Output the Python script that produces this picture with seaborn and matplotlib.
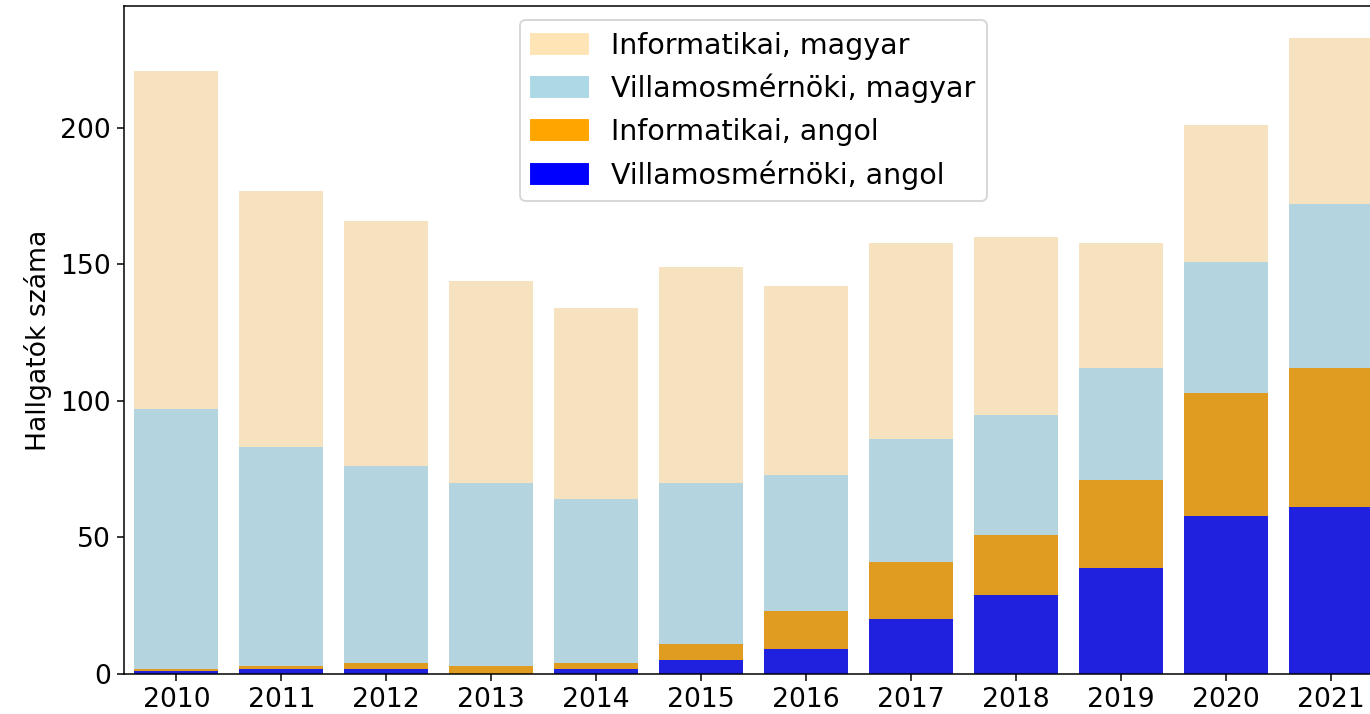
import numpy as np
import matplotlib
matplotlib.use("Agg")
import matplotlib.pyplot as plt
import matplotlib.patches as mpatches
import seaborn as sns

# evek es hallgatoi letszamok
evek = ["2010", "2011", "2012", "2013", "2014", "2015",
        "2016", "2017", "2018", "2019", "2020", "2021"]

vill_angol = [1, 2, 2, 0, 2, 5, 9, 20, 29, 39, 58, 61]
info_angol = [1, 1, 2, 3, 2, 6, 14, 21, 22, 32, 45, 51]
vill_magyar = [95, 80, 72, 67, 60, 59, 50, 45, 44, 41, 48, 60]
info_magyar = [124, 94, 90, 74, 70, 79, 69, 72, 65, 46, 50, 61]

# kumulalt magassagok a halmozott oszlopokhoz
c1 = np.array(vill_angol)
c2 = c1 + np.array(info_angol)
c3 = c2 + np.array(vill_magyar)
c4 = c3 + np.array(info_magyar)

plt.rcParams["font.size"] = 14

fig = plt.figure(figsize=(10, 714 / 137), dpi=137)
ax = fig.add_axes([124 / 1370, 40 / 714, 1259 / 1370, 668 / 714])

sns.barplot(x=evek, y=c4, color="moccasin", ax=ax)
sns.barplot(x=evek, y=c3, color="lightblue", ax=ax)
sns.barplot(x=evek, y=c2, color="orange", ax=ax)
sns.barplot(x=evek, y=c1, color="blue", ax=ax)

ax.set_ylabel("Hallgatók száma")
ax.set_xlabel("")

handles = [
    mpatches.Patch(color="moccasin", label="Informatikai, magyar"),
    mpatches.Patch(color="lightblue", label="Villamosmérnöki, magyar"),
    mpatches.Patch(color="orange", label="Informatikai, angol"),
    mpatches.Patch(color="blue", label="Villamosmérnöki, angol"),
]
ax.legend(handles=handles, loc="upper center", fontsize=15)

fig.savefig("out.png", dpi=137)
